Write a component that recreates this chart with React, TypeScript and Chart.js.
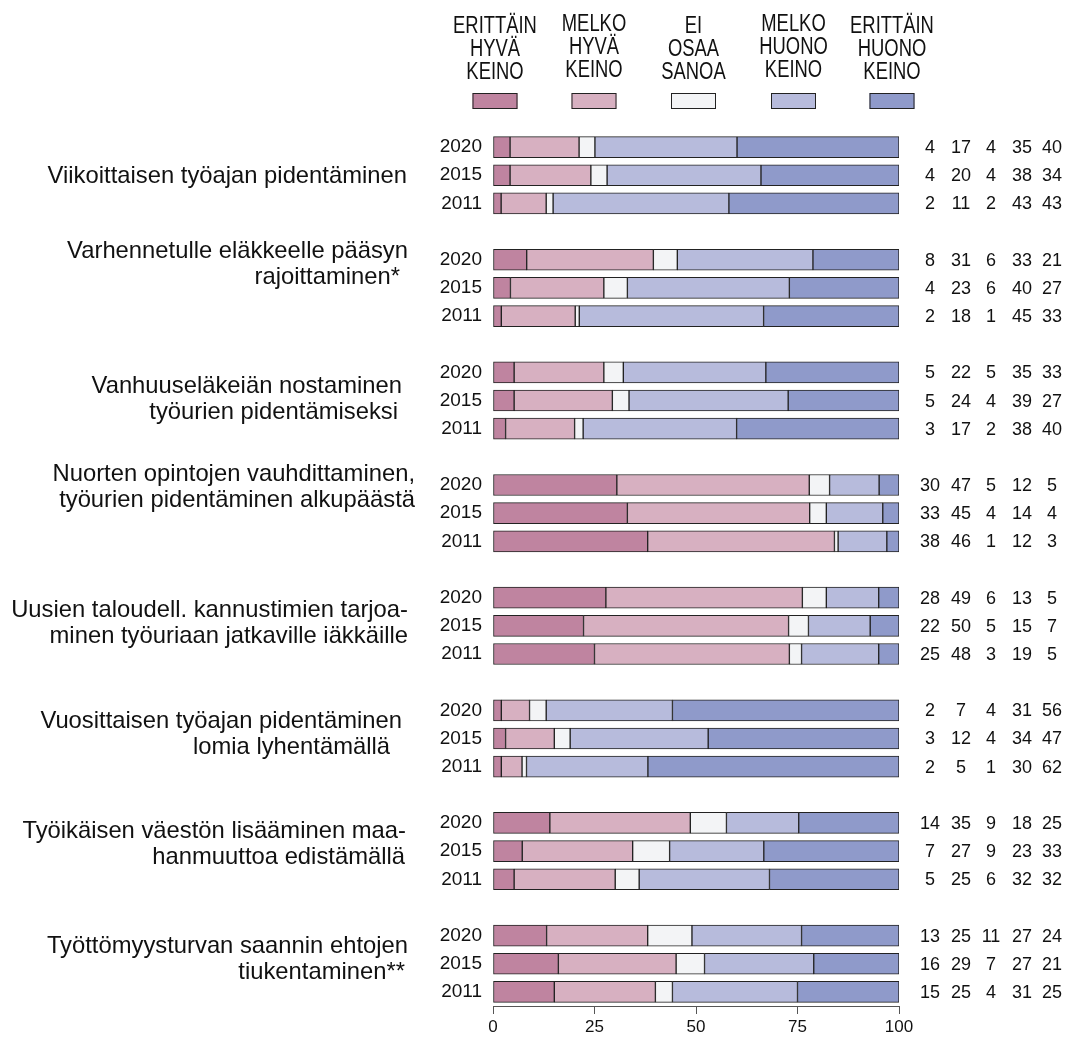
import React, { useEffect, useRef } from "react";
import { Chart, registerables } from "chart.js";

Chart.register(...registerables);

const FONT = "'Liberation Sans', Arial, sans-serif";

const questions: string[][] = [
  ["Viikoittaisen työajan pidentäminen"],
  ["Varhennetulle eläkkeelle pääsyn", "rajoittaminen*"],
  ["Vanhuuseläkeiän nostaminen", "työurien pidentämiseksi"],
  ["Nuorten opintojen vauhdittaminen,", "työurien pidentäminen alkupäästä"],
  ["Uusien taloudell. kannustimien tarjoa-", "minen työuriaan jatkaville iäkkäille"],
  ["Vuosittaisen työajan pidentäminen", "lomia lyhentämällä"],
  ["Työikäisen väestön lisääminen maa-", "hanmuuttoa edistämällä"],
  ["Työttömyysturvan saannin ehtojen", "tiukentaminen**"],
];
// vertical anchor of each question label, in rows relative to the 2020 row
const questionAnchor = [1.05, 0.15, 0.95, 0.1, 0.9, 0.85, 0.75, 0.85];
// right edge of each label line
const questionRight: number[][] = [[407], [408, 400], [402, 398], [415, 415], [408, 408], [402, 390], [406, 405], [408, 405]];

const years = ["2020", "2015", "2011"];

const seriesNames: string[][] = [
  ["ERITTÄIN", "HYVÄ", "KEINO"],
  ["MELKO", "HYVÄ", "KEINO"],
  ["EI", "OSAA", "SANOA"],
  ["MELKO", "HUONO", "KEINO"],
  ["ERITTÄIN", "HUONO", "KEINO"],
];
const seriesColors = ["#bf84a0", "#d7b0c1", "#f3f4f6", "#b7bbdc", "#8f9aca"];

// bar values (group by group, years 2020, 2015, 2011)
const erittainHyva = [4.2, 4.2, 2.0, 8.3, 4.3, 2.05, 5.2, 5.2, 3.1, 30.5, 33.1, 38.1, 27.8, 22.3, 25.0, 2.05, 3.1, 2.05, 14.0, 7.2, 5.2, 13.2, 16.1, 15.1];
const melkoHyva = [17.0, 19.9, 11.1, 31.2, 23.0, 18.2, 22.1, 24.2, 17.0, 47.4, 44.9, 46.0, 48.4, 50.5, 48.0, 6.95, 12.0, 5.1, 34.6, 27.2, 24.9, 24.9, 29.0, 24.9];
const eiOsaa = [3.9, 4.0, 1.7, 5.9, 5.8, 1.0, 4.8, 4.1, 2.1, 5.0, 4.1, 0.9, 5.9, 4.9, 3.0, 4.1, 3.9, 1.1, 8.9, 9.1, 5.9, 10.9, 7.0, 4.2];
const melkoHuono = [35.0, 37.9, 43.3, 33.4, 39.9, 45.4, 35.1, 39.2, 37.8, 12.2, 13.9, 12.0, 12.9, 15.2, 19.0, 31.1, 34.0, 29.9, 17.8, 23.2, 32.1, 27.0, 26.9, 30.8];
const erittainHuono = [39.9, 34.0, 41.9, 21.2, 27.0, 33.35, 32.8, 27.3, 40.0, 4.9, 4.0, 3.0, 5.0, 7.1, 5.0, 55.8, 47.0, 61.85, 24.7, 33.3, 31.9, 24.0, 21.0, 25.0];

// printed values on the right
const shownValues: number[][] = [
  [4, 17, 4, 35, 40], [4, 20, 4, 38, 34], [2, 11, 2, 43, 43],
  [8, 31, 6, 33, 21], [4, 23, 6, 40, 27], [2, 18, 1, 45, 33],
  [5, 22, 5, 35, 33], [5, 24, 4, 39, 27], [3, 17, 2, 38, 40],
  [30, 47, 5, 12, 5], [33, 45, 4, 14, 4], [38, 46, 1, 12, 3],
  [28, 49, 6, 13, 5], [22, 50, 5, 15, 7], [25, 48, 3, 19, 5],
  [2, 7, 4, 31, 56], [3, 12, 4, 34, 47], [2, 5, 1, 30, 62],
  [14, 35, 9, 18, 25], [7, 27, 9, 23, 33], [5, 25, 6, 32, 32],
  [13, 25, 11, 27, 24], [16, 29, 7, 27, 21], [15, 25, 4, 31, 25],
];

const xTicks = [0, 25, 50, 75, 100];

const seriesValues = [erittainHyva, melkoHyva, eiOsaa, melkoHuono, erittainHuono];

const SLOTS = questions.length * 4 - 1;
const slotLabels: string[] = [];
const slotRow: (number | null)[] = [];
for (let i = 0; i < SLOTS; i++) {
  const g = Math.floor(i / 4);
  const y = i % 4;
  if (y < 3) {
    slotLabels.push(years[y]);
    slotRow.push(g * 3 + y);
  } else {
    slotLabels.push("");
    slotRow.push(null);
  }
}

const legendX = [495, 594, 693.5, 793.5, 892];
const legendDy = [0, -2, 0, -2, 0];
const valueColX = [930, 961, 991, 1022, 1052];

const overlayPlugin = {
  id: "overlay",
  afterDraw(chart: any) {
    const ctx = chart.ctx as CanvasRenderingContext2D;
    const yScale = chart.scales.y;
    ctx.save();
    ctx.fillStyle = "#111";

    // question labels
    ctx.font = `23.8px ${FONT}`;
    ctx.textAlign = "right";
    ctx.textBaseline = "middle";
    questions.forEach((lines, g) => {
      const y0 = yScale.getPixelForValue(g * 4);
      const y1 = yScale.getPixelForValue(g * 4 + 1);
      const step = y1 - y0;
      const cy = y0 + questionAnchor[g] * step;
      const lh = 26;
      lines.forEach((ln, k) => {
        const yy = cy + (k - (lines.length - 1) / 2) * lh;
        ctx.fillText(ln, questionRight[g][k], yy);
      });
    });

    // values on the right
    ctx.font = `18px ${FONT}`;
    ctx.textAlign = "center";
    for (let i = 0; i < SLOTS; i++) {
      const r = slotRow[i];
      if (r === null) continue;
      const yy = yScale.getPixelForValue(i);
      shownValues[r].forEach((v, k) => {
        ctx.fillText(String(v), valueColX[k], yy + 1);
      });
    }

    // legend
    seriesNames.forEach((lines, k) => {
      const cx = legendX[k];
      lines.forEach((ln, j) => {
        ctx.save();
        ctx.translate(cx, 25.5 + j * 23 + legendDy[k]);
        ctx.scale(0.8, 1);
        ctx.font = `23px ${FONT}`;
        ctx.textAlign = "center";
        ctx.textBaseline = "middle";
        ctx.fillText(ln, 0, 1);
        ctx.restore();
      });
      const bx = cx - 22.5;
      ctx.fillStyle = seriesColors[k];
      ctx.fillRect(bx, 93, 45, 16);
      ctx.strokeStyle = "#222";
      ctx.lineWidth = 1;
      ctx.strokeRect(bx + 0.5, 93.5, 44, 15);
      ctx.fillStyle = "#111";
    });
    ctx.restore();
  },
};

export default function App() {
  const canvasRef = useRef<HTMLCanvasElement | null>(null);

  useEffect(() => {
    if (!canvasRef.current) return;
    const datasets = seriesValues.map((vals, k) => ({
      label: seriesNames[k].join(" "),
      data: slotRow.map((r) => (r === null ? null : vals[r])),
      backgroundColor: seriesColors[k],
      borderColor: "#222",
      borderWidth: 1,
      borderSkipped: false as const,
      barThickness: 21,
    }));
    const chart = new Chart(canvasRef.current, {
      type: "bar",
      data: { labels: slotLabels, datasets },
      options: {
        indexAxis: "y",
        animation: false,
        responsive: true,
        maintainAspectRatio: false,
        layout: { padding: { top: 133, right: 168, left: 0, bottom: 0 } },
        plugins: { legend: { display: false }, tooltip: { enabled: false } },
        scales: {
          x: {
            stacked: true,
            min: 0,
            max: 100,
            afterBuildTicks: (scale: any) => {
              scale.ticks = xTicks.map((v) => ({ value: v }));
            },
            afterFit: (scale: any) => {
              scale.height = 31;
            },
            grid: { drawOnChartArea: false, drawTicks: true, tickLength: 8, color: "#555" },
            border: { display: true, color: "#555" },
            ticks: { font: { family: FONT, size: 17 }, color: "#111", padding: 3, maxRotation: 0 },
          },
          y: {
            stacked: true,
            afterFit: (scale: any) => {
              scale.width = 493;
            },
            grid: { display: false, drawTicks: false },
            border: { display: false },
            ticks: { autoSkip: false, font: { family: FONT, size: 19 }, color: "#111", padding: 11 },
          },
        },
      },
      plugins: [overlayPlugin],
    });
    return () => chart.destroy();
  }, []);

  return (
    <div style={{ position: "fixed", left: 0, top: 0, width: 1067, height: 1037, background: "#fff" }}>
      <canvas ref={canvasRef} />
    </div>
  );
}
